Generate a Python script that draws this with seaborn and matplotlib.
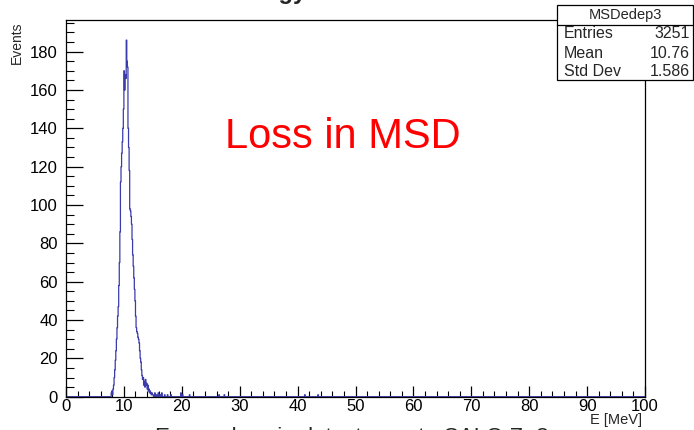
import numpy as np
import pandas as pd
import matplotlib
matplotlib.use("Agg")
import matplotlib.pyplot as plt
import seaborn as sns
from matplotlib.ticker import MultipleLocator
from matplotlib.patches import Rectangle

# ---- data (bin width 0.1 MeV, histogram 0-100 MeV) ----
core_start = 7.8
core_counts = [2, 3, 1, 4, 6, 10, 14, 19, 24, 30,
               36, 42, 47, 58, 70, 86, 112, 120, 127, 133,
               140, 150, 170, 160, 168, 166, 186, 175, 172, 140,
               130, 118, 98, 97, 94, 90, 82, 74, 68, 62,
               56, 50, 42, 36, 34, 33, 31, 30, 28, 24,
               20, 18, 14, 11, 9, 10, 6, 8, 5, 9,
               6, 7, 4, 6, 3, 4, 2, 3, 2, 1,
               2, 1, 1]
tail_energy = [15.3, 15.6, 15.9, 16.2, 16.5, 17.0, 17.5, 18.1, 19.8, 20.1, 21.3, 26.4, 27.3, 41.2, 43.5]
tail_counts = [2, 1, 2, 1, 2, 1, 1, 1, 2, 1, 1, 1, 1, 1, 1]

hist_name = "MSDedep3"
stats_labels = ["Entries", "Mean", "Std Dev"]
stats_values = ["3251", "10.76", "1.586"]
x_label = "E [MeV]"
y_label = "Events"
annot = "Loss in MSD"
top_title = "Energy loss in MSD"
bottom_title = "Energy loss in detector up to CALO Z=8"

core_centers = [round(core_start + 0.05 + 0.1 * i, 3) for i in range(len(core_counts))]
df = pd.DataFrame({
    "E": core_centers + [e + 0.05 for e in tail_energy],
    "n": [float(v) for v in core_counts + tail_counts],
})

sns.set_style("white")
plt.rcParams["font.family"] = ["Liberation Sans", "DejaVu Sans"]

fig = plt.figure(figsize=(6.94, 4.30), dpi=100)
ax = fig.add_axes([66 / 694, 1 - 396.7 / 430, (645 - 66) / 694, (396.7 - 20) / 430])

sns.histplot(data=df, x="E", weights="n", binwidth=0.1, binrange=(0, 100),
             element="step", fill=False, color="#3b3bab", linewidth=0.9, ax=ax)

ax.set_xlim(0, 100)
ax.set_ylim(0, 196.5)
ax.set_xlabel("")
ax.set_ylabel("")
ax.xaxis.set_major_locator(MultipleLocator(10))
ax.xaxis.set_minor_locator(MultipleLocator(2))
ax.yaxis.set_major_locator(MultipleLocator(20))
ax.yaxis.set_minor_locator(MultipleLocator(5))
ax.tick_params(axis="both", which="both", direction="in", colors="black",
               labelsize=12, bottom=True, left=True, top=False, right=False)
ax.tick_params(axis="y", which="major", length=12, width=0.9, pad=6)
ax.tick_params(axis="y", which="minor", length=6, width=0.8)
ax.tick_params(axis="x", which="major", length=8, width=0.9, pad=2)
ax.tick_params(axis="x", which="minor", length=4, width=0.8)
for s in ax.spines.values():
    s.set_color("black")
    s.set_linewidth(0.9)

fig.text(17 / 694, 1 - 21 / 430, y_label, rotation=90, ha="center", va="top", fontsize=10)
fig.text(642 / 694, 1 - 413 / 430, x_label, ha="right", va="top", fontsize=10.5)
fig.text(343 / 694, 1 - 148 / 430, annot, color="red", ha="center", va="baseline", fontsize=30)
fig.text(155 / 694, 1 - 427 / 430, bottom_title, ha="left", va="top", fontsize=16)
fig.text(226 / 694, 1 + 1 / 430, top_title, ha="left", va="baseline", fontsize=17, fontweight="bold")

# stats box
bx0, bx1, by0, by1 = 557, 693, 5, 80
fig.patches.append(Rectangle((bx0 / 694, 1 - by1 / 430), (bx1 - bx0) / 694, (by1 - by0) / 430,
                             transform=fig.transFigure, facecolor="white", edgecolor="black",
                             linewidth=0.9, zorder=5))
fig.add_artist(plt.Line2D([bx0 / 694, bx1 / 694], [1 - 24.5 / 430, 1 - 24.5 / 430],
                          transform=fig.transFigure, color="black", linewidth=0.9, zorder=6))
fig.text((bx0 + bx1) / 2 / 694, 1 - 15 / 430, hist_name, ha="center", va="center", fontsize=10.5, zorder=7)
for i, (lab, val) in enumerate(zip(stats_labels, stats_values)):
    yy = 1 - (34 + 19 * i) / 430
    fig.text(564 / 694, yy, lab, ha="left", va="center", fontsize=11.5, zorder=7)
    fig.text(690 / 694, yy, val, ha="right", va="center", fontsize=11.5, zorder=7)

fig.savefig("out.png", dpi=100)
